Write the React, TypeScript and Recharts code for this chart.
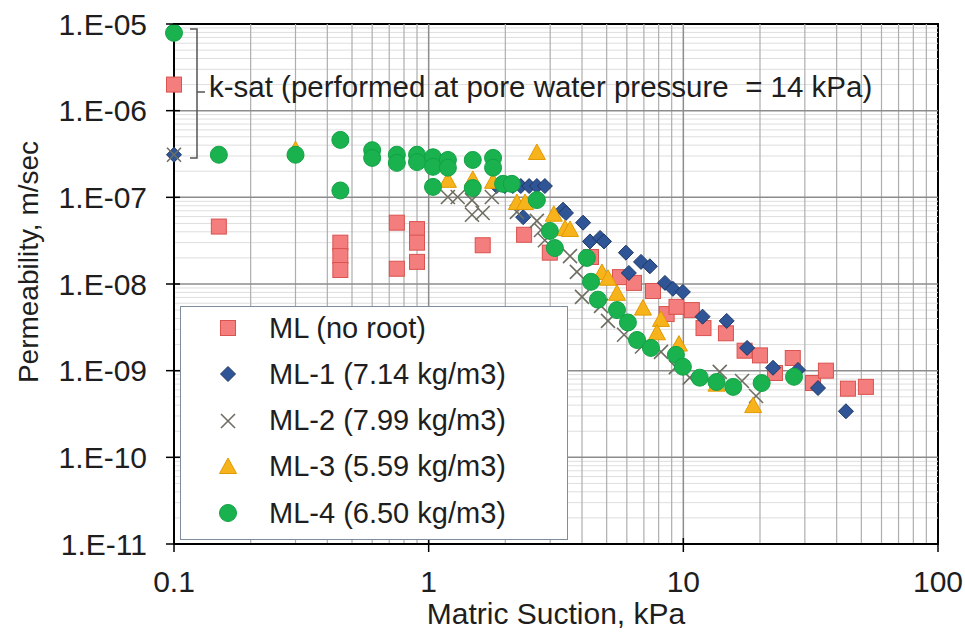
import React from 'react';
import { Legend, ReferenceArea, ReferenceLine, Scatter, ScatterChart, XAxis, YAxis } from 'recharts';

// matric suction (kPa), permeability (m/s) pairs
const mlNoRoot: [number, number][] = [
  [0.1, 2.0e-6], [0.15, 4.6e-8], [0.45, 3.0e-8], [0.45, 2.1e-8], [0.45, 1.45e-8],
  [0.75, 5.1e-8], [0.75, 1.5e-8], [0.9, 4.3e-8], [0.9, 3.0e-8], [0.9, 1.8e-8],
  [1.63, 2.8e-8], [2.37, 3.7e-8], [2.99, 2.3e-8], [4.34, 2.05e-8], [5.64, 1.2e-8],
  [6.4, 1.03e-8], [7.6, 8.3e-9], [8.6, 4.5e-9], [9.4, 5.45e-9], [10.8, 5.0e-9],
  [12.0, 3.1e-9], [14.7, 2.7e-9], [17.4, 1.7e-9], [20.0, 1.5e-9], [22.9, 9.4e-10],
  [26.9, 1.4e-9], [32.3, 7.2e-10], [36.3, 1.0e-9], [44.3, 6.2e-10], [52.1, 6.5e-10],
];
const ml1: [number, number][] = [
  [0.1, 3.1e-7], [1.85, 1.35e-7], [1.99, 1.35e-7], [2.14, 1.35e-7], [2.3, 1.35e-7],
  [2.48, 1.35e-7], [2.66, 1.35e-7], [2.86, 1.35e-7], [2.35, 5.9e-8], [3.37, 7.2e-8],
  [3.46, 6.6e-8], [4.04, 5.1e-8], [4.3, 3.1e-8], [4.71, 3.4e-8], [4.88, 3.1e-8],
  [5.95, 2.3e-8], [6.82, 1.8e-8], [7.39, 1.6e-8], [6.11, 1.34e-8], [8.47, 1.03e-8],
  [9.1, 8.8e-9], [9.96, 8.1e-9], [11.9, 4.2e-9], [14.8, 3.75e-9], [17.8, 1.83e-9],
  [22.5, 1.08e-9], [28.2, 1.02e-9], [33.8, 6.3e-10], [43.5, 3.4e-10],
];
const ml2: [number, number][] = [
  [0.1, 3.1e-7], [1.19, 1.01e-7], [1.3, 1.01e-7], [1.48, 9.3e-8], [1.77, 1.01e-7],
  [1.48, 6.3e-8], [1.63, 6.6e-8], [2.22, 6.8e-8], [2.66, 5.35e-8], [2.76, 4.2e-8],
  [2.86, 3.2e-8], [3.59, 2.1e-8], [3.82, 1.38e-8], [4.0, 7.1e-9], [4.75, 5.6e-9],
  [5.06, 3.75e-9], [5.85, 2.6e-9], [6.88, 1.9e-9], [8.17, 1.65e-9], [9.35, 1.1e-9],
  [10.6, 8.3e-10], [13.9, 9.7e-10], [17.0, 7.6e-10], [19.3, 5.1e-10],
];
const ml3: [number, number][] = [
  [0.3, 3.5e-7], [1.19, 1.55e-7], [1.49, 1.59e-7], [1.79, 1.51e-7], [2.66, 3.25e-7],
  [2.22, 8.6e-8], [2.39, 8.6e-8], [3.1, 6.3e-8], [3.43, 4.3e-8], [3.59, 4.2e-8],
  [4.79, 1.34e-8], [5.06, 1.15e-8], [5.49, 7.7e-9], [6.94, 5.2e-9], [8.17, 3.85e-9],
  [7.88, 2.7e-9], [9.61, 2.0e-9], [13.5, 6.9e-10], [18.8, 3.9e-10],
];
const ml4: [number, number][] = [
  [0.1, 7.9e-6], [0.15, 3.1e-7], [0.3, 3.1e-7], [0.45, 4.6e-7], [0.45, 1.2e-7],
  [0.6, 3.5e-7], [0.6, 2.85e-7], [0.75, 3.1e-7], [0.75, 2.5e-7], [0.9, 3.1e-7],
  [0.9, 2.55e-7], [1.04, 2.9e-7], [1.04, 2.25e-7], [1.04, 1.32e-7], [1.19, 2.7e-7],
  [1.19, 2.2e-7], [1.49, 2.7e-7], [1.49, 1.28e-7], [1.79, 2.85e-7], [1.79, 2.2e-7],
  [1.96, 1.43e-7], [2.12, 1.43e-7], [2.66, 9.3e-8], [2.99, 4.1e-8], [3.13, 2.6e-8],
  [4.18, 2.0e-8], [4.34, 1.06e-8], [4.62, 6.6e-9], [5.49, 5.0e-9], [6.06, 3.6e-9],
  [6.58, 2.26e-9], [7.46, 1.83e-9], [9.35, 1.52e-9], [9.96, 1.11e-9], [11.6, 8.3e-10],
  [13.5, 7.4e-10], [15.7, 6.5e-10], [20.3, 7.2e-10], [27.2, 8.5e-10],
];

const seriesNames = ['ML (no root)', 'ML-1 (7.14 kg/m3)', 'ML-2 (7.99 kg/m3)', 'ML-3 (5.59 kg/m3)', 'ML-4 (6.50 kg/m3)'];

const xTicks = [0.1, 1, 10, 100];
const yTicks = [1e-11, 1e-10, 1e-9, 1e-8, 1e-7, 1e-6, 1e-5];
const xMajorGrid = [1, 10];
const xMinorGrid = [0.2, 0.3, 0.4, 0.5, 0.6, 0.7, 0.8, 0.9, 2, 3, 4, 5, 6, 7, 8, 9, 20, 30, 40, 50, 60, 70, 80, 90];
const yMajorGrid = [1e-10, 1e-9, 1e-8, 1e-7, 1e-6];
const yMinorGrid = [
  2e-11, 3e-11, 4e-11, 5e-11, 6e-11, 7e-11, 8e-11, 9e-11,
  2e-10, 3e-10, 4e-10, 5e-10, 6e-10, 7e-10, 8e-10, 9e-10,
  2e-9, 3e-9, 4e-9, 5e-9, 6e-9, 7e-9, 8e-9, 9e-9,
  2e-8, 3e-8, 4e-8, 5e-8, 6e-8, 7e-8, 8e-8, 9e-8,
  2e-7, 3e-7, 4e-7, 5e-7, 6e-7, 7e-7, 8e-7, 9e-7,
  2e-6, 3e-6, 4e-6, 5e-6, 6e-6, 7e-6, 8e-6, 9e-6,
];

const FONT = '"Liberation Sans", Arial, sans-serif';
const TEXT = '#1e1e1e';

const toPoints = (rows: [number, number][]) => rows.map(([x, y]) => ({ x, y }));

const sciLabel = (v: number) => {
  const exp = Math.round(Math.log10(v));
  return `1.E${exp < 0 ? '-' : '+'}${String(Math.abs(exp)).padStart(2, '0')}`;
};

const Square = ({ cx, cy }: any) => (
  <rect x={cx - 7.5} y={cy - 7.5} width={15} height={15} fill="#f47d7d" stroke="#d9534f" strokeWidth={1} />
);
const Diamond = ({ cx, cy }: any) => (
  <polygon points={`${cx},${cy - 7.5} ${cx + 7.5},${cy} ${cx},${cy + 7.5} ${cx - 7.5},${cy}`} fill="#2f5597" stroke="#1f3864" strokeWidth={1} />
);
const Cross = ({ cx, cy }: any) => (
  <g stroke="#6e6e62" strokeWidth={1.6}>
    <line x1={cx - 7} y1={cy - 7} x2={cx + 7} y2={cy + 7} />
    <line x1={cx - 7} y1={cy + 7} x2={cx + 7} y2={cy - 7} />
  </g>
);
const Triangle = ({ cx, cy }: any) => (
  <polygon points={`${cx},${cy - 9} ${cx + 8.5},${cy + 6.5} ${cx - 8.5},${cy + 6.5}`} fill="#f7b31b" stroke="#e39a00" strokeWidth={1} />
);
const Dot = ({ cx, cy }: any) => <circle cx={cx} cy={cy} r={8.5} fill="#19b24f" stroke="#12a145" strokeWidth={1} />;

const markers = [Square, Diamond, Cross, Triangle, Dot];

const YTick = ({ x, y, payload }: any) => (
  <g>
    <line x1={x - 8} x2={x + 6} y1={y} y2={y} stroke="#000" strokeWidth={1.5} />
    <text x={x - 27} y={y} dy="0.36em" textAnchor="end" fontSize={30} fontFamily={FONT} fill={TEXT}>
      {sciLabel(payload.value)}
    </text>
  </g>
);

const XTick = ({ x, y, payload }: any) => (
  <g>
    <line x1={x} x2={x} y1={y - 6} y2={y + 8} stroke="#000" strokeWidth={1.5} />
    <text x={x} y={y + 48} textAnchor="middle" fontSize={30} fontFamily={FONT} fill={TEXT}>
      {payload.value}
    </text>
  </g>
);

const LegendBox = () => (
  <div
    style={{
      position: 'relative',
      width: 388,
      height: 234,
      boxSizing: 'border-box',
      background: '#fff',
      border: '1.5px solid #7f8e9c',
      fontFamily: FONT,
      fontSize: 29,
      color: TEXT,
    }}
  >
    {seriesNames.map((name, i) => {
      const Marker = markers[i];
      return (
        <div key={name} style={{ position: 'absolute', left: 0, top: 1 + i * 46.3, height: 40, display: 'flex', alignItems: 'center' }}>
          <svg width={30} height={30} style={{ marginLeft: 32 }}>
            <Marker cx={15} cy={15} />
          </svg>
          <span style={{ marginLeft: 26, whiteSpace: 'nowrap' }}>{name}</span>
        </div>
      );
    })}
  </div>
);

export default function App() {
  const series = [mlNoRoot, ml1, ml2, ml3, ml4];
  return (
    <div style={{ position: 'absolute', left: 0, top: 0, width: 965, height: 639, background: '#fff', fontFamily: FONT }}>
      <ScatterChart width={965} height={639} margin={{ top: 24, right: 27, bottom: 0, left: 0 }}>
        <XAxis
          type="number"
          dataKey="x"
          scale="log"
          domain={[0.1, 100]}
          ticks={xTicks}
          height={95}
          tickSize={0}
          tickMargin={0}
          tickLine={false}
          tick={<XTick />}
          axisLine={{ stroke: '#000', strokeWidth: 2 }}
          label={{ value: 'Matric Suction, kPa', position: 'insideBottom', offset: 15, fontSize: 30, fill: TEXT, fontFamily: FONT }}
        />
        <YAxis
          type="number"
          dataKey="y"
          scale="log"
          domain={[1e-11, 1e-5]}
          ticks={yTicks}
          width={174}
          tickSize={0}
          tickMargin={0}
          tickLine={false}
          tick={<YTick />}
          axisLine={{ stroke: '#000', strokeWidth: 2 }}
          label={{
            value: 'Permeability, m/sec',
            angle: -90,
            position: 'insideLeft',
            offset: 28,
            dy: -22,
            fontSize: 28,
            fill: TEXT,
            fontFamily: FONT,
            style: { textAnchor: 'middle' },
          }}
        />
        {yMinorGrid.map(v => (
          <ReferenceLine key={`ym${v}`} y={v} stroke="#dedede" strokeWidth={1} />
        ))}
        {xMinorGrid.map(v => (
          <ReferenceLine key={`xm${v}`} x={v} stroke="#aeaeae" strokeWidth={1.2} />
        ))}
        {xMajorGrid.map(v => (
          <ReferenceLine key={`xM${v}`} x={v} stroke="#8c8c8c" strokeWidth={1.5} />
        ))}
        {yMajorGrid.map(v => (
          <ReferenceLine key={`yM${v}`} y={v} stroke="#8c8c8c" strokeWidth={1.5} />
        ))}
        <ReferenceArea x1={0.1} x2={100} y1={1e-11} y2={1e-5} fill="none" stroke="#000" strokeWidth={2} />
        <Legend
          layout="vertical"
          align="center"
          verticalAlign="middle"
          wrapperStyle={{ left: 180, top: 306, width: 388, height: 234 }}
          content={() => <LegendBox />}
        />
        {series.map((rows, i) => (
          <Scatter key={seriesNames[i]} name={seriesNames[i]} data={toPoints(rows)} shape={markers[i]} isAnimationActive={false} />
        ))}
      </ScatterChart>
      <svg width={965} height={639} style={{ position: 'absolute', left: 0, top: 0, pointerEvents: 'none' }}>
        <path d="M190 29 H197 V158 H190 M197 92 H205" fill="none" stroke="#555" strokeWidth={1.5} />
        <text x={209} y={97} fontSize={29.5} fontFamily={FONT} fill={TEXT} style={{ whiteSpace: 'pre' }}>
          {'k-sat (performed at pore water pressure  = 14 kPa)'}
        </text>
      </svg>
    </div>
  );
}
